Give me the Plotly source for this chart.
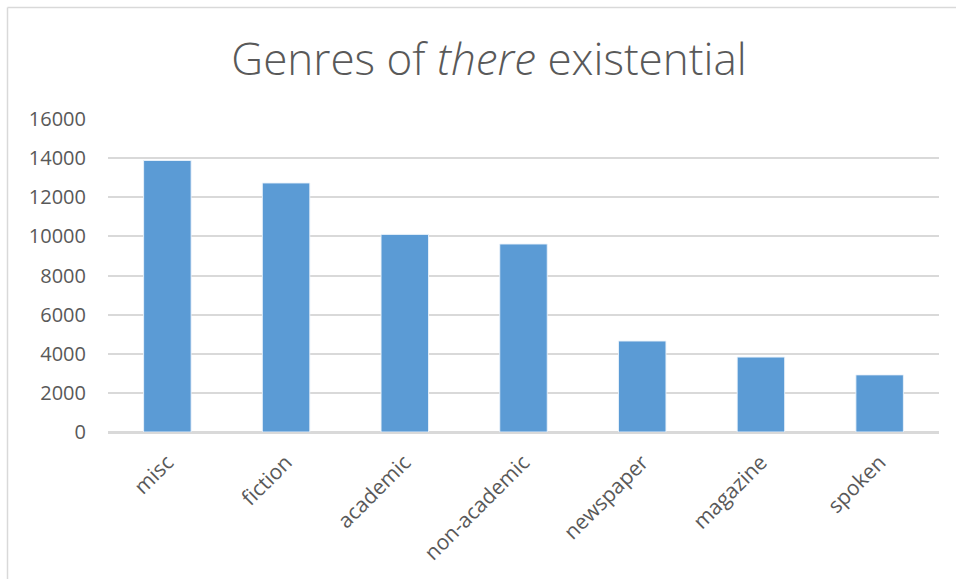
import plotly.graph_objects as go

categories = ["misc", "fiction", "academic", "non-academic", "newspaper", "magazine", "spoken"]
counts = [13880, 12730, 10100, 9610, 4650, 3830, 2920]
y_ticks = [0, 2000, 4000, 6000, 8000, 10000, 12000, 14000, 16000]

W, H = 956, 579
L, R, T, B = 108, 17, 119, 147
pw, ph = W - L - R, H - T - B

fig = go.Figure(
    go.Bar(
        x=categories,
        y=counts,
        marker=dict(color="#5B9BD5", line=dict(color="rgba(235,243,251,0.9)", width=1)),
        width=0.4,
    )
)

def px_to_paper_x(px):
    return (px - L) / pw

def px_to_paper_y(py):
    return (H - B - py) / ph

grid = "#D9D9D9"
fig.update_layout(
    width=W,
    height=H,
    margin=dict(l=L, r=R, t=T, b=B),
    paper_bgcolor="white",
    plot_bgcolor="white",
    showlegend=False,
    title=dict(
        text="Genres of <i>there</i> existential",
        x=489 / W,
        xref="container",
        xanchor="center",
        y=1 - 60 / H,
        yref="container",
        yanchor="middle",
        font=dict(family="Open Sans", size=44, color="#595959", weight=300),
    ),
    font=dict(family="Open Sans", color="#595959"),
    xaxis=dict(
        tickangle=-45,
        tickfont=dict(size=21, color="#595959"),
        showgrid=False,
        showline=True,
        linecolor=grid,
        linewidth=1.5,
        ticks="",
        ticklabelstandoff=8,
    ),
    yaxis=dict(
        range=[0, 16000],
        tickvals=y_ticks,
        ticktext=[str(v) for v in y_ticks],
        tickfont=dict(size=20, color="#595959"),
        showgrid=True,
        gridcolor=grid,
        gridwidth=1.5,
        zeroline=True,
        zerolinecolor=grid,
        zerolinewidth=1.5,
        showline=False,
        ticks="",
        ticklabelstandoff=21,
    ),
    shapes=[
        dict(type="line", xref="paper", yref="paper",
             x0=px_to_paper_x(7.5), x1=px_to_paper_x(7.5),
             y0=px_to_paper_y(7.5), y1=px_to_paper_y(H + 5),
             line=dict(color=grid, width=1.5)),
        dict(type="line", xref="paper", yref="paper",
             x0=px_to_paper_x(7.5), x1=px_to_paper_x(W + 5),
             y0=px_to_paper_y(7.5), y1=px_to_paper_y(7.5),
             line=dict(color=grid, width=1.5)),
    ],
)

fig.write_html("out.html")
